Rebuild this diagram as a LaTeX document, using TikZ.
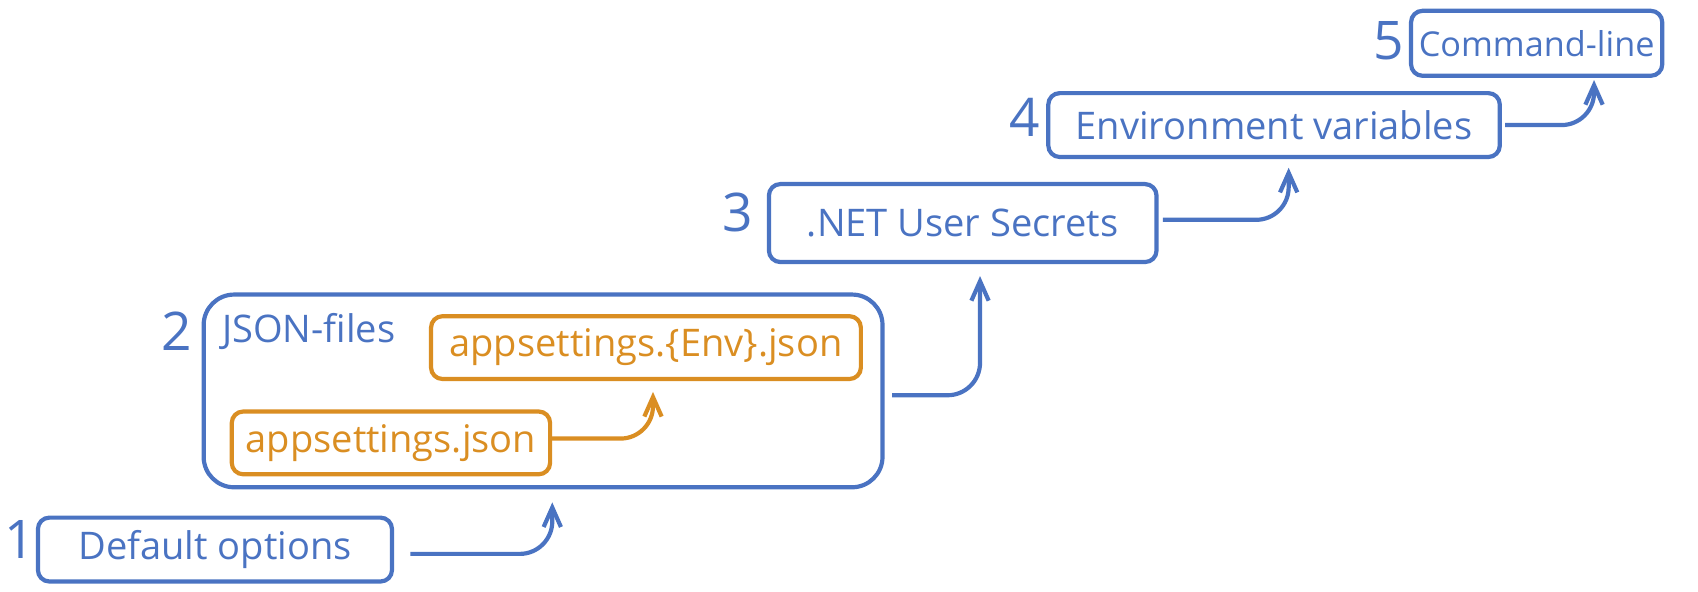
\documentclass[tikz,border=0pt]{standalone}
\usepackage{fontspec}
\setmainfont{Open Sans}
\usepackage{tikz}
\usetikzlibrary{positioning,arrows.meta,calc}
\definecolor{skblue}{HTML}{4A73C2}
\definecolor{skorange}{HTML}{DA8E22}

\begin{document}
\begin{tikzpicture}[->,>={Straight Barb[length=0.36cm,width=0.32cm]},draw=skblue,line width=2.2pt,x=0.02cm,y=0.02cm]
    \tikzstyle{box}=[draw=skblue,rounded corners=6pt,text=skblue,font=\fontsize{20}{24}\selectfont,inner sep=0pt]
    \tikzstyle{file box}=[box,draw=skorange,text=skorange];
    \tikzstyle{num}=[text=skblue,font=\fontsize{28}{32}\selectfont,anchor=north east,inner sep=0pt];
    \tikzstyle{annot}=[text=skblue,font=\fontsize{20}{24}\selectfont,anchor=north west,inner sep=0pt];
    \tikzstyle{override}=[rounded corners=0.6cm];

    \useasboundingbox (0,0) rectangle (1568,546);

    % Draw the sources, lowest priority first
    \node[box,minimum width=6.54cm,minimum height=1.18cm] (def) at (198.5,38.5) {Default options};
    \node[box,rounded corners=16pt,minimum width=12.54cm,minimum height=3.56cm] (json) at (501.5,185) {};
    \node[file box,minimum width=7.94cm,minimum height=1.16cm] (env) at (596.5,225) {appsettings.\{Env\}.json};
    \node[file box,minimum width=5.88cm,minimum height=1.16cm] (app) at (361,137) {appsettings.json};
    \node[box,minimum width=7.16cm,minimum height=1.44cm] (sec) at (889,340) {.NET User Secrets};
    \node[box,minimum width=8.34cm,minimum height=1.18cm] (var) at (1176.5,430.5) {Environment variables};
    \node[box,font=\fontsize{18}{22}\selectfont,minimum width=4.64cm,minimum height=1.2cm] (cmd) at (1419,506) {Command-line};
    \node[annot] (json-label) at ([xshift=0.34cm,yshift=-0.34cm]json.north west) {JSON-files};

    % Number the sources
    \node[num] (n1) at ([xshift=0.02cm,yshift=-0.06cm]def.north west) {1};
    \node[num] (n2) at ([xshift=-0.14cm,yshift=-0.32cm]json.north west) {2};
    \node[num] (n3) at ([xshift=-0.22cm,yshift=-0.16cm]sec.north west) {3};
    \node[num] (n4) at ([xshift=-0.08cm,yshift=-0.1cm]var.north west) {4};
    \node[num] (n5) at ([xshift=-0.06cm,yshift=-0.2cm]cmd.north west) {5};

    % Each source overrides the one before
    \draw[override] ($(def.east)+(15,-4)$) -| ($(json.south)+(8.5,-12)$);
    \draw[override,draw=skorange] ($(app.east)+(0,4)$) -| ($(env.south)+(6.5,-10)$);
    \draw[override] ($(json.east)+(7,-4)$) -| ($(sec.south)+(16,-11)$);
    \draw[override] ($(sec.east)+(4,3)$) -| ($(var.south)+(13.5,-8)$);
    \draw[override] ($(var.east)+(3,0)$) -| ($(cmd.south)+(53,-2)$);
\end{tikzpicture}
\end{document}
